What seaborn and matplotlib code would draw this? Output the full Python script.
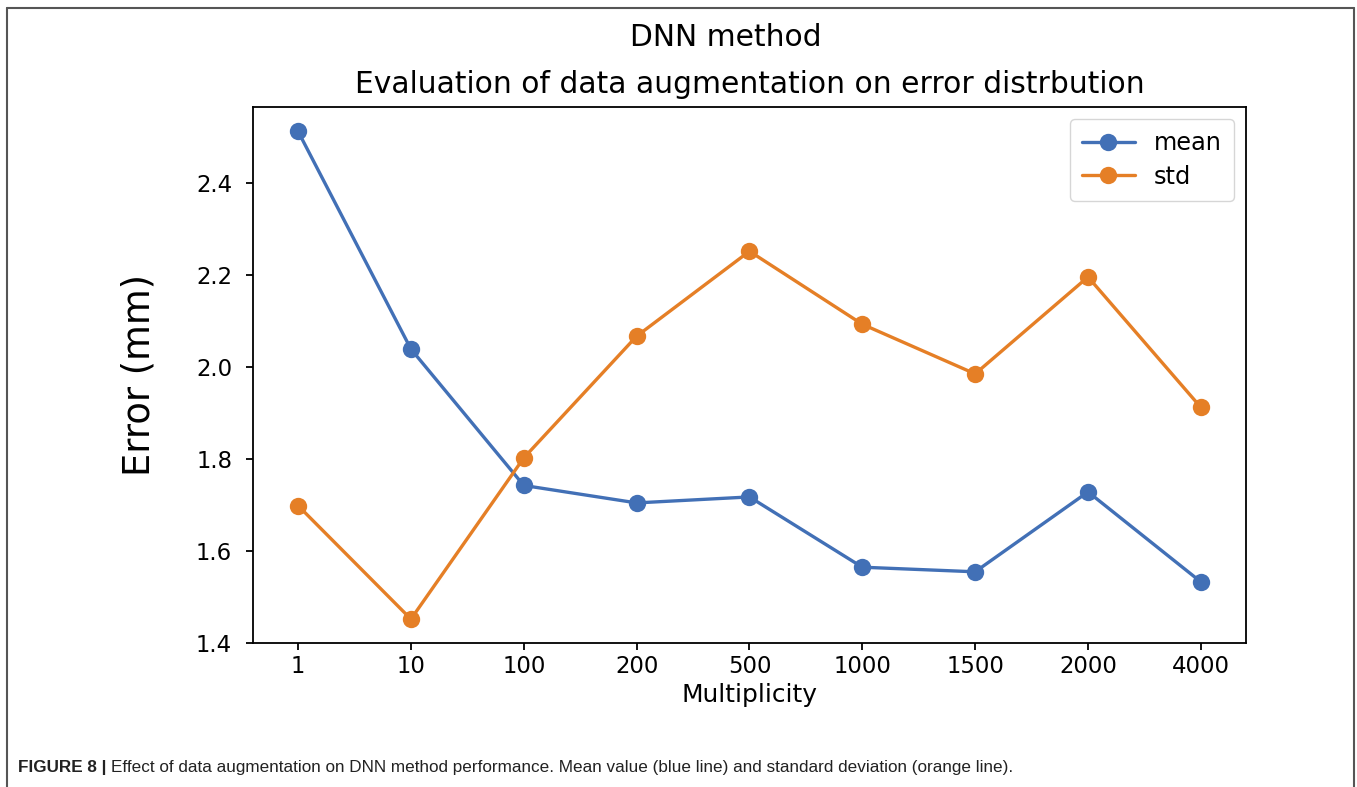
import pandas as pd
import numpy as np
import seaborn as sns
import matplotlib.pyplot as plt
from matplotlib.lines import Line2D

# values
multiplicity = ["1", "10", "100", "200", "500", "1000", "1500", "2000", "4000"]
mean_err = [2.513, 2.039, 1.742, 1.704, 1.717, 1.564, 1.554, 1.728, 1.532]
std_err = [1.698, 1.451, 1.802, 2.067, 2.252, 2.093, 1.985, 2.196, 1.912]

df = pd.DataFrame({
    "Multiplicity": multiplicity * 2,
    "Error": mean_err + std_err,
    "stat": ["mean"] * len(multiplicity) + ["std"] * len(multiplicity),
})

sns.set_theme(style="ticks")
plt.rcParams['font.family'] = ['DejaVu Sans']
plt.rcParams['text.color'] = 'black'

fig = plt.figure(figsize=(13.57, 7.87), dpi=100)
ax = fig.add_axes([0.1864, 0.183, 0.7318, 0.681])

sns.lineplot(data=df, x="Multiplicity", y="Error", hue="stat", sort=False,
             palette=["#4270b6", "#e57f26"], marker="o", markersize=12.5,
             markeredgewidth=0, linewidth=2.4, ax=ax)

ax.set_ylim(1.399, 2.566)
ax.set_yticks([1.4, 1.6, 1.8, 2.0, 2.2, 2.4])
ax.tick_params(labelsize=16.4, length=5, width=1.3, color="black", labelcolor="black")
ax.tick_params(axis="y", pad=10)
for s in ax.spines.values():
    s.set_linewidth(1.3)
    s.set_color("black")

ax.set_xlabel("Multiplicity", fontsize=17.9, color="black")
ax.set_ylabel("Error (mm)", fontsize=26.5, color="black", labelpad=28)
ax.set_title("Evaluation of data augmentation on error distrbution", fontsize=21.4, pad=10)
fig.text(0.5347, 0.952, "DNN method", ha="center", va="center", fontsize=21.4)

leg = ax.legend(loc="upper right", fontsize=17.3, handlelength=2.2, borderpad=0.5,
                labelspacing=0.4, handletextpad=0.8)
leg.get_frame().set_edgecolor("#cccccc")

# outer frame and caption, as in the journal page
for xs, ys in [([0.0052, 0.0052], [0.0, 0.99]), ([0.0052, 0.9978], [0.99, 0.99]),
               ([0.9978, 0.9978], [0.0, 0.99])]:
    fig.add_artist(Line2D(xs, ys, transform=fig.transFigure, color="#555555", lw=1.5))

cap_font = ['Liberation Sans', 'DejaVu Sans']
head = fig.text(0.0133, 0.0254, "FIGURE 8 |", fontsize=12.3, fontweight="bold",
                family=cap_font, va="center", color="#222222")
ax.annotate("Effect of data augmentation on DNN method performance. Mean value (blue line) and standard deviation (orange line).",
            xy=(1, 0.5), xycoords=head, xytext=(3, 0), textcoords="offset points",
            va="center", fontsize=12.3, family=cap_font, color="#222222",
            annotation_clip=False)

fig.savefig("out.png", dpi=100)
